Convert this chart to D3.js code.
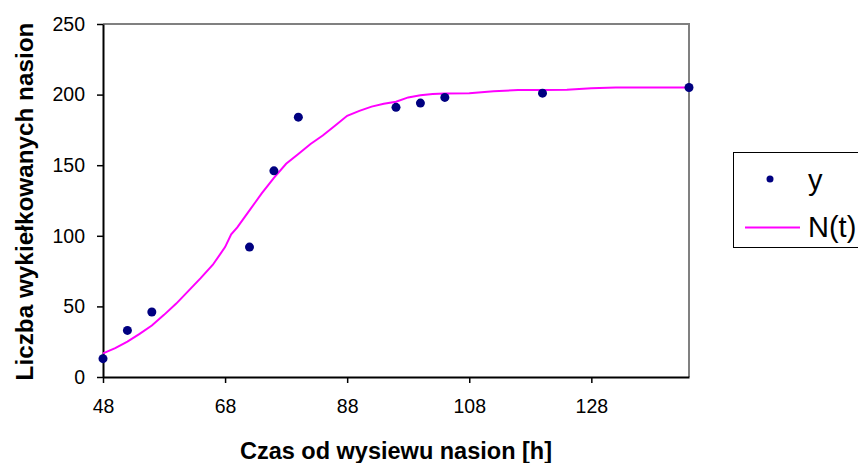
<!DOCTYPE html>
<html>
<head>
<meta charset="utf-8">
<script src="https://cdn.jsdelivr.net/npm/d3@7"></script>
<style>
  body { margin: 0; background: #fff; }
  svg { font-family: "Liberation Sans", Arial, sans-serif; }
</style>
</head>
<body>
<div id="chart"></div>
<script>
// measured points (y)
let tObs = [48, 52, 56, 72, 76, 80, 96, 100, 104, 120, 144];
let yObs = [13, 33, 46, 92, 146, 184, 191, 194, 198, 201, 205];

// model curve N(t)
let tFit = [48, 50, 52, 54, 56, 58, 60, 62, 64, 66, 68, 69, 70, 72, 74, 76, 78, 80, 82, 84, 86,
            88, 90, 92, 94, 96, 98, 100, 102, 104, 108, 112, 116, 120, 124, 128, 132, 136, 140, 144];
let nFit = [16.7, 20.5, 25, 30.5, 36.5, 44, 52, 61, 70, 79.5, 92, 101, 106, 118, 130, 141, 151, 158, 165, 171, 178,
            185, 188.5, 191.5, 193.5, 195, 198, 199.5, 200.5, 200.8, 201, 202.3, 203.2, 203.3, 203.5, 204.5, 205, 205, 205, 205];

let xTicks = [48, 68, 88, 108, 128];
let yTicks = [0, 50, 100, 150, 200, 250];

let width = 858, height = 463;
let plotL = 103, plotR = 689, plotT = 24, plotB = 377;

let x = d3.scaleLinear().domain([48, 144]).range([plotL, plotR]);
let y = d3.scaleLinear().domain([0, 250]).range([plotB, plotT]);

let svg = d3.select("#chart")
            .append("svg")
            .attr("width", width)
            .attr("height", height);

// plot area frame (top/right grey)
svg.append("path")
   .attr("d", "M" + plotL + "," + plotT + "H" + plotR + "V" + plotB)
   .attr("fill", "none")
   .attr("stroke", "#808080")
   .attr("stroke-width", 2);

// axes
let xAxis = svg.append("g")
   .attr("transform", "translate(0," + plotB + ")")
   .call(d3.axisBottom(x).tickValues(xTicks).tickSize(6).tickSizeOuter(0).tickPadding(16));
let yAxis = svg.append("g")
   .attr("transform", "translate(" + plotL + ",0)")
   .call(d3.axisLeft(y).tickValues(yTicks).tickSize(6).tickSizeOuter(0).tickPadding(12));

[xAxis, yAxis].forEach(function(a) {
  a.select(".domain").attr("stroke", "#000").attr("stroke-width", 2);
  a.selectAll(".tick line").attr("stroke", "#000").attr("stroke-width", 1.5);
  a.selectAll(".tick text").attr("fill", "#000").style("font-size", "19.5px");
});

// N(t) line
let line = d3.line()
             .x(function(d, i) { return x(tFit[i]); })
             .y(function(d) { return y(d); });

svg.append("path")
   .datum(nFit)
   .attr("d", line)
   .attr("fill", "none")
   .attr("stroke", "#ff00ff")
   .attr("stroke-width", 2);

// y points
svg.selectAll("circle.obs")
   .data(yObs)
   .enter()
   .append("circle")
   .attr("class", "obs")
   .attr("cx", function(d, i) { return x(tObs[i]); })
   .attr("cy", function(d) { return y(d); })
   .attr("r", 4.5)
   .attr("fill", "#000080");

// axis titles
svg.append("text")
   .attr("x", 396)
   .attr("y", 459)
   .attr("text-anchor", "middle")
   .style("font-size", "23.5px")
   .style("font-weight", "bold")
   .text("Czas od wysiewu nasion [h]");

svg.append("text")
   .attr("transform", "translate(33," + ((plotT + plotB) / 2 + 1) + ") rotate(-90)")
   .attr("text-anchor", "middle")
   .style("font-size", "24.3px")
   .style("font-weight", "bold")
   .text("Liczba wykiełkowanych nasion");

// legend
let lg = svg.append("g");
lg.append("rect")
  .attr("x", 733.5).attr("y", 152.5)
  .attr("width", 130).attr("height", 95)
  .attr("fill", "#fff")
  .attr("stroke", "#000")
  .attr("stroke-width", 1);
lg.append("circle")
  .attr("cx", 770).attr("cy", 179).attr("r", 3.5)
  .attr("fill", "#000080");
lg.append("text")
  .attr("x", 808).attr("y", 190)
  .style("font-size", "29px")
  .text("y");
lg.append("line")
  .attr("x1", 745).attr("x2", 800)
  .attr("y1", 227.5).attr("y2", 227.5)
  .attr("stroke", "#ff00ff")
  .attr("stroke-width", 2);
lg.append("text")
  .attr("x", 808).attr("y", 237)
  .style("font-size", "29px")
  .text("N(t)");
</script>
</body>
</html>
